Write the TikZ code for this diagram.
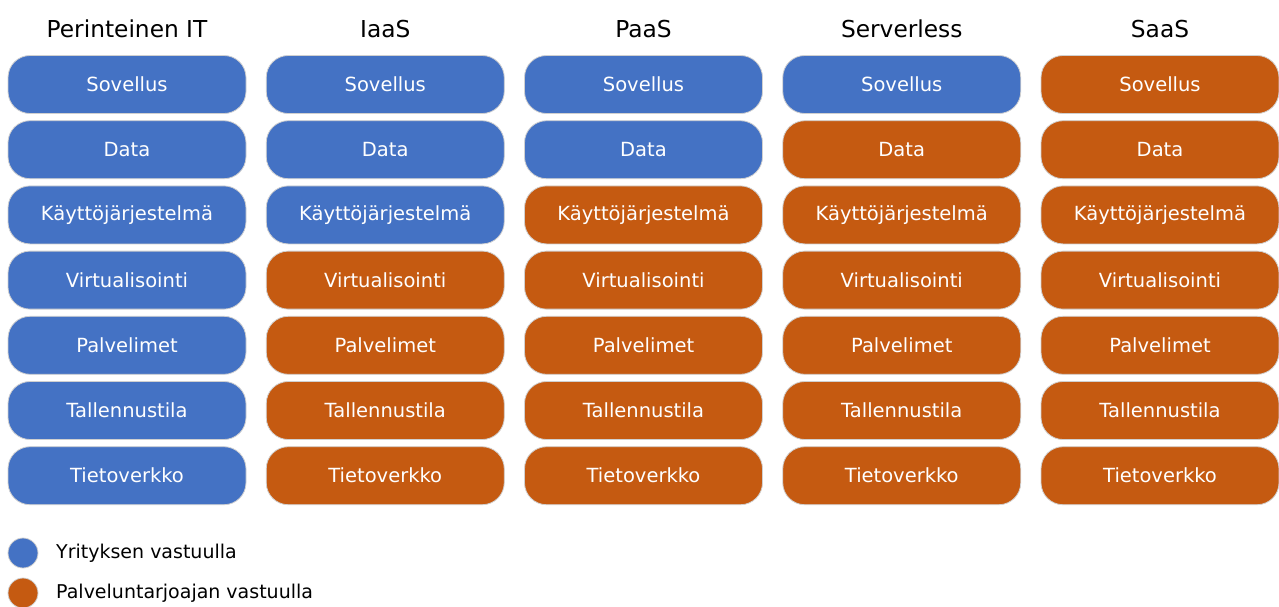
\documentclass[tikz,border=0pt]{standalone}
\usepackage{fontspec}
\setmainfont{DejaVu Sans}
\definecolor{custblue}{HTML}{4472C4}
\definecolor{provorange}{HTML}{C55A11}
\definecolor{rimgray}{HTML}{D0D0D0}
\begin{document}
\begin{tikzpicture}[x=1pt,y=-1pt,
  layer/.style={rounded corners=22pt,draw=rimgray,line width=0.8pt,
    minimum width=238pt,minimum height=58pt,inner sep=0pt,
    text=white,font=\fontsize{19.5}{21}\selectfont},
  cust/.style={layer,fill=custblue},
  prov/.style={layer,fill=provorange},
  heading/.style={font=\fontsize{23.3}{25}\selectfont,text=black},
  dot/.style={circle,minimum size=30pt,inner sep=0pt,draw=rimgray,line width=0.8pt},
  legtext/.style={anchor=west,font=\fontsize{19}{21}\selectfont,inner sep=0pt}]
\useasboundingbox (0,0) rectangle (1279,606);
% column headings
\foreach \t [count=\c] in {Perinteinen IT,IaaS,PaaS,Serverless,SaaS}
  \node[heading] (h\c) at ({127+(\c-1)*258.25},29) {\t};
% stack layers: one list of styles per column (top to bottom)
\foreach \styles [count=\c] in {
  {cust,cust,cust,cust,cust,cust,cust},
  {cust,cust,cust,prov,prov,prov,prov},
  {cust,cust,prov,prov,prov,prov,prov},
  {cust,prov,prov,prov,prov,prov,prov},
  {prov,prov,prov,prov,prov,prov,prov}}{
  \foreach \s/\t [count=\r] in {1/Sovellus,2/Data,3/Käyttöjärjestelmä,4/Virtualisointi,5/Palvelimet,6/Tallennustila,7/Tietoverkko}{
    \foreach \k [count=\i] in \styles {\ifnum\i=\s \xdef\curstyle{\k}\fi}
    \node[\curstyle] (b\c-\r) at ({127+(\c-1)*258.25},{84.5+(\r-1)*65.2}) {\t};
  }
}
% legend
\node[dot,fill=custblue] (lc) at (23,553) {};
\node[legtext] (lct) at (56,553) {Yrityksen vastuulla};
\node[dot,fill=provorange] (lp) at (23,593) {};
\node[legtext] (lpt) at (56,593) {Palveluntarjoajan vastuulla};
\end{tikzpicture}
\end{document}
